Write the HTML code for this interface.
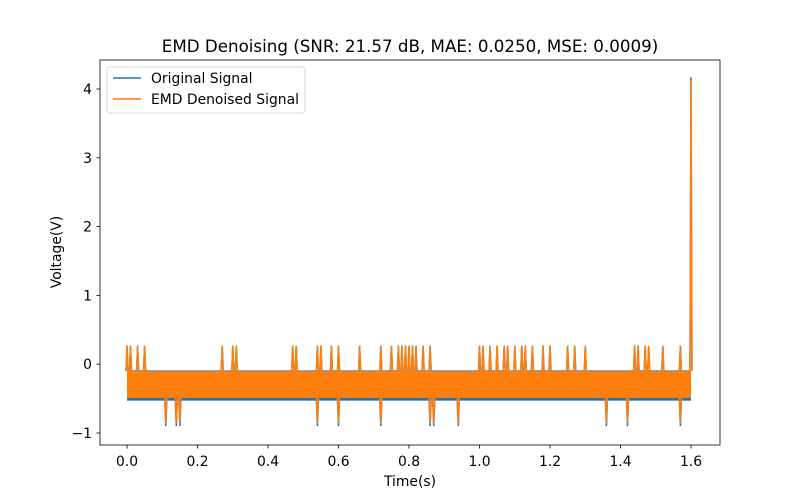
<!DOCTYPE html>
<html><head><meta charset="utf-8"><style>
html,body{margin:0;padding:0;background:#fff;}
svg{display:block;font-family:"DejaVu Sans","Liberation Sans",sans-serif;}
</style></head><body>
<svg id="chart" width="800" height="500" viewBox="0 0 800 500">
<rect width="800" height="500" fill="#fff"/>
<text x="410" y="52" text-anchor="middle" font-size="16.7">EMD Denoising (SNR: 21.57 dB, MAE: 0.0250, MSE: 0.0009)</text>
<g id="series"></g>
<g id="axes"></g>
<rect x="100" y="60" width="620" height="385" fill="none" stroke="#000" stroke-width="0.8"/>
<text x="410" y="486" text-anchor="middle" font-size="13.9">Time(s)</text>
<text x="61" y="252" text-anchor="middle" font-size="13.9" transform="rotate(-90 61 252)">Voltage(V)</text>
<g>
<rect x="107" y="67" width="198" height="46" rx="3" fill="#fff" fill-opacity="0.8" stroke="#ccc" stroke-width="0.8"/>
<line x1="113" y1="78" x2="141" y2="78" stroke="#1f77b4" stroke-width="1.5"/>
<text x="151" y="83" font-size="13.9">Original Signal</text>
<line x1="113" y1="99" x2="141" y2="99" stroke="#ff7f0e" stroke-width="1.5"/>
<text x="151" y="104" font-size="13.9">EMD Denoised Signal</text>
</g>
</svg>
<script>
const xTicks = [0.0,0.2,0.4,0.6,0.8,1.0,1.2,1.4,1.6];
const xTickLabels = ["0.0","0.2","0.4","0.6","0.8","1.0","1.2","1.4","1.6"];
const yTicks = [-1,0,1,2,3,4];
const yTickLabels = ["\u22121","0","1","2","3","4"];
// noise band levels [upper, lower]
const denoisedBand = [-0.10, -0.49];
const originalBand = [-0.09, -0.53];
const timeRange = [0, 1.6];
const upSpikeTimes = [0.0,0.01,0.03,0.05,0.27,0.30,0.31,0.47,0.48,0.54,0.55,0.58,0.60,0.66,0.72,0.75,0.77,0.78,0.79,0.80,0.81,0.82,0.84,0.86,1.00,1.01,1.03,1.05,1.07,1.08,1.10,1.12,1.13,1.15,1.18,1.20,1.25,1.27,1.30,1.44,1.45,1.47,1.48,1.52,1.57];
const upSpikeValue = 0.27;
const downSpikeTimes = [0.11,0.14,0.15,0.54,0.60,0.72,0.86,0.87,0.94,1.36,1.42,1.57];
const downSpikeDenoised = -0.86;
const downSpikeOriginal = -0.90;
const finalSpikeTime = 1.6;
const finalSpikeDenoised = 4.12;
const finalSpikeOriginal = 4.17;

const NS='http://www.w3.org/2000/svg';
function xScale(t){return 127 + t*(691-127)/1.6;}
function yScale(v){return 433 - (v+1)*(433-89)/5;}
const series=document.getElementById('series');
const axes=document.getElementById('axes');
function drawSeries(band,color,downVal,finalVal,name){
  const g=document.createElementNS(NS,'g');
  
  
  const r=document.createElementNS(NS,'rect');
  r.setAttribute('x',xScale(timeRange[0]));r.setAttribute('width',xScale(timeRange[1])-xScale(timeRange[0]));
  r.setAttribute('y',yScale(band[0]));r.setAttribute('height',yScale(band[1])-yScale(band[0]));
  r.setAttribute('fill',color);
  
  
  g.appendChild(r);
  const spikes=upSpikeTimes.map(t=>[t,upSpikeValue]).concat(downSpikeTimes.map(t=>[t,downVal]));
  spikes.push([finalSpikeTime,finalVal]);
  let d='';
  spikes.forEach(s=>{
    const x=xScale(s[0]);
    const base=s[1]>0?band[0]:band[1];
    d+='M'+(x-1).toFixed(1)+','+yScale(base).toFixed(1)+'L'+x.toFixed(1)+','+yScale(s[1]).toFixed(1)+'L'+(x+1).toFixed(1)+','+yScale(base).toFixed(1);
  });
  const p=document.createElementNS(NS,'path');
  p.setAttribute('d',d);p.setAttribute('fill','none');p.setAttribute('stroke',color);p.setAttribute('stroke-width','1.5');
  
  
  g.appendChild(p);
  series.appendChild(g);
}
drawSeries(originalBand,'#1f77b4',downSpikeOriginal,finalSpikeOriginal,'original-signal');
drawSeries(denoisedBand,'#ff7f0e',downSpikeDenoised,finalSpikeDenoised,'denoised-signal');
xTicks.forEach((t,i)=>{
  const x=xScale(t);
  const l=document.createElementNS(NS,'line');
  l.setAttribute('x1',x);l.setAttribute('x2',x);l.setAttribute('y1',445);l.setAttribute('y2',448.5);
  l.setAttribute('stroke','#000');l.setAttribute('stroke-width','0.8');
  
  
  axes.appendChild(l);
  const tx=document.createElementNS(NS,'text');
  tx.setAttribute('x',x);tx.setAttribute('y',466);tx.setAttribute('text-anchor','middle');tx.setAttribute('font-size','13.9');
  tx.textContent=xTickLabels[i];
  
  
  axes.appendChild(tx);
});
yTicks.forEach((v,i)=>{
  const y=yScale(v);
  const l=document.createElementNS(NS,'line');
  l.setAttribute('x1',96.5);l.setAttribute('x2',100);l.setAttribute('y1',y);l.setAttribute('y2',y);
  l.setAttribute('stroke','#000');l.setAttribute('stroke-width','0.8');
  
  
  axes.appendChild(l);
  const tx=document.createElementNS(NS,'text');
  tx.setAttribute('x',92);tx.setAttribute('y',y+5);tx.setAttribute('text-anchor','end');tx.setAttribute('font-size','13.9');
  tx.textContent=yTickLabels[i];
  
  
  axes.appendChild(tx);
});
</script>
</body></html>
